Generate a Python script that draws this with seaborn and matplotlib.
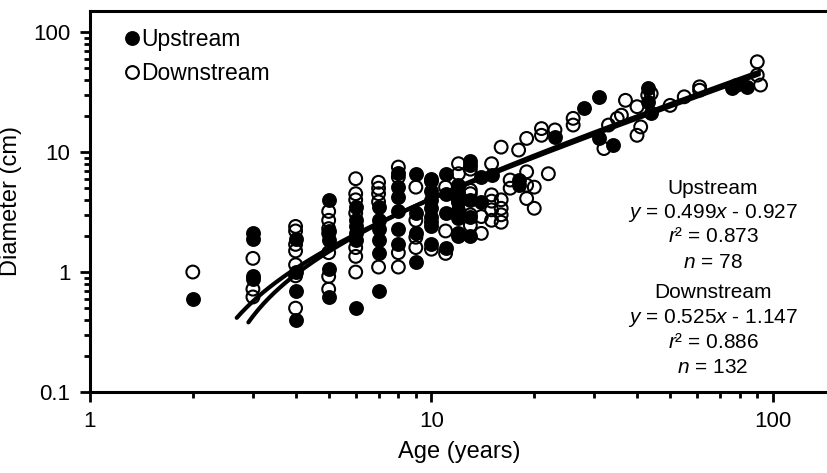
import numpy as np
import pandas as pd
import matplotlib
matplotlib.use("Agg")
import matplotlib.pyplot as plt
import seaborn as sns
from matplotlib.lines import Line2D

# tree age (years) and diameter (cm)
up_age = [2,
          3, 3, 3, 3,
          4, 4, 4, 4,
          5, 5, 5, 5, 5,
          6, 6, 6, 6, 6, 6,
          7, 7, 7, 7, 7, 7,
          8, 8, 8, 8, 8, 8,
          9, 9, 9, 9,
          10, 10, 10, 10, 10, 10, 10,
          11, 11, 11, 11,
          12, 12, 12, 12, 12, 12, 12,
          13, 13, 13, 13, 13,
          14, 14,
          15,
          18, 18,
          23, 28, 31, 31, 34,
          43, 43, 44,
          76, 78, 84]
up_diam = [0.6,
           2.1, 1.9, 0.93, 0.88,
           1.9, 1.0, 0.7, 0.4,
           4.0, 2.2, 1.85, 1.05, 0.62,
           3.5, 2.7, 2.4, 2.1, 1.85, 0.5,
           3.5, 2.7, 2.3, 1.85, 1.45, 0.7,
           6.7, 5.1, 4.2, 3.2, 2.3, 1.7,
           6.6, 3.1, 2.1, 1.22,
           6.0, 4.7, 4.0, 3.4, 2.9, 2.4, 1.7,
           6.6, 4.5, 3.1, 1.6,
           5.3, 4.6, 3.8, 3.3, 2.8, 2.1, 2.0,
           8.5, 7.8, 4.0, 2.9, 2.0,
           6.2, 3.8,
           6.4,
           5.3, 5.85,
           13.4, 23.1, 28.9, 13.0, 11.4,
           34, 26.3, 21.1,
           34, 36, 35]

down_age = [2,
            3, 3, 3,
            4, 4, 4, 4, 4, 4, 4,
            5, 5, 5, 5, 5, 5, 5,
            6, 6, 6, 6, 6, 6, 6,
            7, 7, 7, 7, 7,
            8, 8, 8, 8,
            9, 9, 9, 9,
            10, 10, 10,
            11, 11, 11,
            12, 12, 12,
            13, 13, 13, 13, 13,
            14, 14,
            15, 15, 15, 15, 15,
            16, 16, 16, 16, 16,
            17, 17, 18,
            19, 19, 19, 19,
            20, 20, 21, 21, 22, 23,
            26, 26, 32, 33, 35, 36, 37,
            40, 40, 41, 43, 44, 50, 55,
            61, 61, 90, 90, 92]
down_diam = [1.0,
             1.3, 0.72, 0.62,
             2.4, 2.2, 1.7, 1.5, 1.15, 0.93, 0.5,
             3.2, 2.7, 2.3, 2.1, 1.45, 0.92, 0.72,
             6.0, 4.5, 4.0, 3.1, 1.6, 1.35, 1.0,
             5.6, 5.0, 4.5, 3.85, 1.1,
             7.5, 6.2, 1.45, 1.1,
             5.1, 2.7, 1.95, 1.6,
             5.7, 2.6, 1.55,
             5.1, 2.2, 1.43,
             8.0, 6.6, 3.9,
             7.2, 4.8, 4.5, 3.0, 2.45,
             2.9, 2.1,
             8.0, 4.4, 3.9, 3.3, 2.7,
             11.0, 4.0, 3.4, 2.6, 3.0,
             5.85, 5.0, 10.4,
             13.0, 6.85, 5.3, 4.1,
             5.1, 3.4, 15.7, 13.8, 6.6, 15.3,
             19.1, 16.8, 10.7, 16.8, 19.1, 20.3, 27,
             23.9, 13.8, 16.2, 29.8, 30.8, 24.5, 28.9,
             35, 32.8, 56.6, 43.8, 36.2]

# linear fits as printed on the chart, and the age span each line covers
up_fit = [0.499, -0.927]
down_fit = [0.525, -1.147]
up_span = [2.69, 91]
down_span = [2.91, 91]

site_names = ['Upstream', 'Downstream']
stats_text = [['Upstream', '$y$ = 0.499$x$ - 0.927', '$r$\u00b2 = 0.873', '$n$ = 78'],
              ['Downstream', '$y$ = 0.525$x$ - 1.147', '$r$\u00b2 = 0.886', '$n$ = 132']]
x_ticks = [1, 10, 100]
x_tick_labels = ['1', '10', '100']
y_ticks = [0.1, 1, 10, 100]
y_tick_labels = ['0.1', '1', '10', '100']


def fit_line(coef, span):
    ages = np.geomspace(span[0], span[1], 200)
    return pd.DataFrame({'age': ages, 'diam': coef[0] * ages + coef[1]})


def main():
    sns.set_style('ticks')
    plt.rcParams['font.family'] = ['Liberation Sans', 'DejaVu Sans']
    plt.rcParams['mathtext.fontset'] = 'custom'
    plt.rcParams['mathtext.rm'] = 'Liberation Sans'
    plt.rcParams['mathtext.it'] = 'Liberation Sans:italic'
    for key in ['text.color', 'axes.labelcolor', 'axes.edgecolor', 'xtick.color', 'ytick.color']:
        plt.rcParams[key] = 'black'

    up = pd.DataFrame({'age': up_age, 'diam': up_diam})
    down = pd.DataFrame({'age': down_age, 'diam': down_diam})

    fig = plt.figure(figsize=(8.28, 4.73), dpi=100)
    ax = fig.add_axes([90 / 828, 81 / 473, 738 / 828, 381 / 473])

    sns.scatterplot(data=up, x='age', y='diam', ax=ax, s=85, color='black',
                    edgecolor='black', linewidth=1.5, zorder=3)
    sns.scatterplot(data=down, x='age', y='diam', ax=ax, s=85, facecolor='none',
                    edgecolor='black', linewidth=1.5, zorder=3)

    sns.lineplot(data=fit_line(up_fit, up_span), x='age', y='diam', ax=ax,
                 color='black', linewidth=3, zorder=4)
    sns.lineplot(data=fit_line(down_fit, down_span), x='age', y='diam', ax=ax,
                 color='black', linewidth=3, zorder=4)

    ax.set_xscale('log')
    ax.set_yscale('log')
    ax.set_xlim(1, 145)
    ax.set_ylim(0.1, 150)
    ax.set_xticks(x_ticks)
    ax.set_xticklabels(x_tick_labels)
    ax.set_yticks(y_ticks)
    ax.set_yticklabels(y_tick_labels)
    ax.tick_params(which='major', direction='out', length=7, width=2,
                   labelsize=16, pad=7)
    ax.tick_params(which='minor', direction='out', length=4, width=2)
    ax.tick_params(axis='x', which='minor', labelbottom=False)
    ax.tick_params(axis='y', which='minor', labelleft=False)

    for side in ['left', 'bottom', 'top']:
        ax.spines[side].set_linewidth(2.2)
        ax.spines[side].set_visible(True)
    ax.spines['right'].set_visible(False)

    ax.set_xlabel('Age (years)', fontsize=17, labelpad=6)
    ax.set_ylabel('Diameter (cm)', fontsize=17, labelpad=8)

    # legend
    handles = [Line2D([], [], marker='o', linestyle='none', markersize=9.2,
                      markerfacecolor='black', markeredgecolor='black', markeredgewidth=1.5),
               Line2D([], [], marker='o', linestyle='none', markersize=9.2,
                      markerfacecolor='none', markeredgecolor='black', markeredgewidth=1.5)]
    ax.legend(handles, site_names, loc='upper left', bbox_to_anchor=(0.035, 0.98),
              frameon=False, fontsize=16.5, handlelength=0.6, handletextpad=0.12,
              labelspacing=0.5, borderaxespad=0)

    # fit statistics
    y_px = [[188, 213, 237, 262], [293, 318, 342, 367]]
    for block, rows in zip(stats_text, y_px):
        for line, yp in zip(block, rows):
            ax.text((713 - 90) / 738, (392 - yp) / 381, line, transform=ax.transAxes,
                    ha='center', va='center', fontsize=15)

    fig.savefig('out.png', dpi=100)


if __name__ == "__main__":
    main()
